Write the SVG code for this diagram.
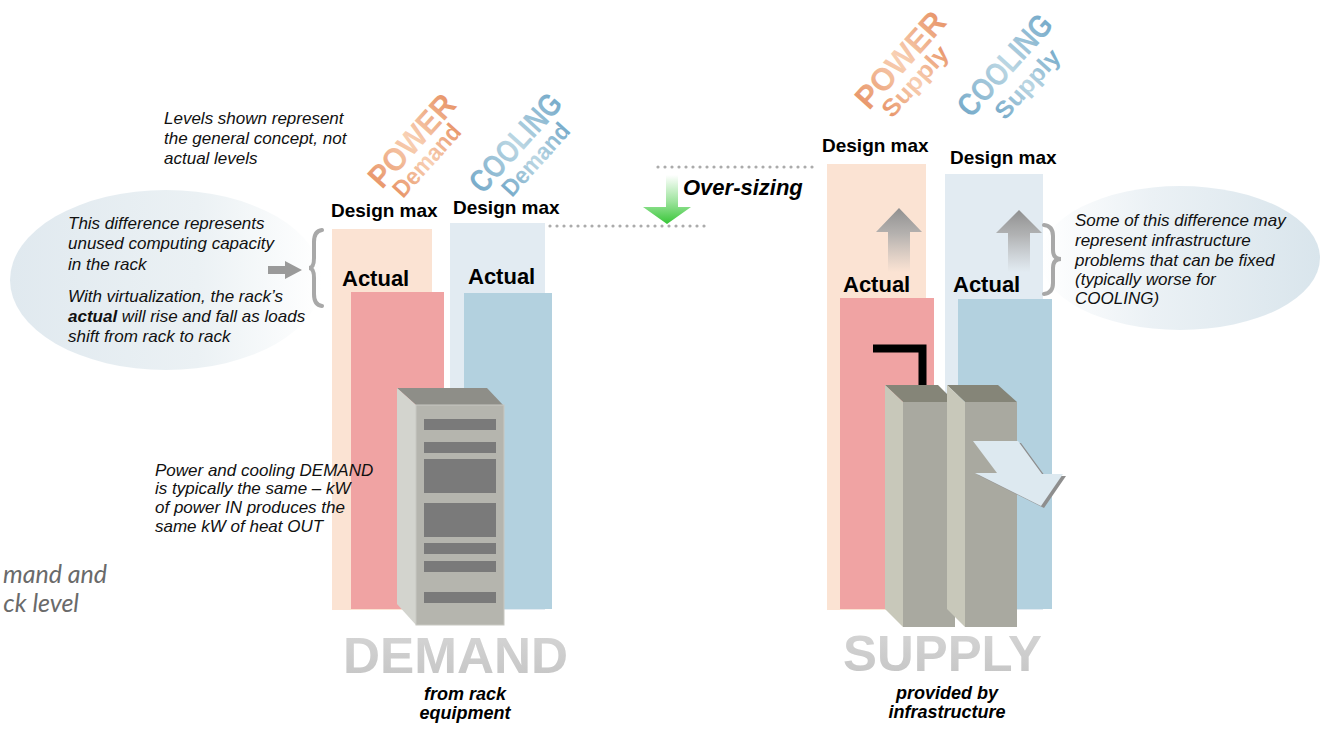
<svg xmlns="http://www.w3.org/2000/svg" width="1322" height="730" viewBox="0 0 1322 730">
<defs>
<style>
.it{font-family:"Liberation Sans",Arial,sans-serif;font-style:italic;font-size:17px;fill:#111}
.dm{font-family:"Liberation Sans",Arial,sans-serif;font-weight:bold;font-size:19px;fill:#000}
.act{font-family:"Liberation Sans",Arial,sans-serif;font-weight:bold;font-size:22px;fill:#000}
.big{font-family:"Liberation Sans",Arial,sans-serif;font-weight:bold;font-size:50px;fill:url(#gBig)}
.sub{font-family:"Liberation Sans",Arial,sans-serif;font-weight:bold;font-style:italic;font-size:18px;fill:#000;text-anchor:middle}
.rotB{font-family:"Liberation Sans",Arial,sans-serif;font-weight:bold;font-size:32px}
.rotS{font-family:"Liberation Sans",Arial,sans-serif;font-weight:bold;font-size:24px}
.peach{fill:#FBE3D3}.lblue{fill:#E2EBF2}.red{fill:#F0A3A3}.blue{fill:#B3D1DF}
.dots{stroke:#ABABAB;stroke-width:3.2;stroke-linecap:round;stroke-dasharray:0 7;fill:none}
.brace{stroke:#A8A8A8;stroke-width:4;fill:none;stroke-linecap:round}
.slot{fill:#7A7A7A}
</style>
<linearGradient id="gOr" x1="0" y1="0" x2="1" y2="0">
<stop offset="0" stop-color="#E8966A"/><stop offset="0.5" stop-color="#F8D0B4"/><stop offset="1" stop-color="#E8966A"/>
</linearGradient>
<linearGradient id="gBl" x1="0" y1="0" x2="1" y2="0">
<stop offset="0" stop-color="#77ABCA"/><stop offset="0.5" stop-color="#BCD7E3"/><stop offset="1" stop-color="#77ABCA"/>
</linearGradient>
<linearGradient id="gBig" x1="0" y1="0" x2="0" y2="1">
<stop offset="0" stop-color="#D6D6D6"/><stop offset="1" stop-color="#C4C4C4"/>
</linearGradient>
<linearGradient id="gEllL" x1="0" y1="0" x2="1" y2="0">
<stop offset="0" stop-color="#E0E9EF"/><stop offset="0.6" stop-color="#EBF1F4"/><stop offset="1" stop-color="#FFFFFF"/>
</linearGradient>
<linearGradient id="gEllR" x1="0" y1="0" x2="1" y2="0">
<stop offset="0" stop-color="#FFFFFF"/><stop offset="0.4" stop-color="#EBF1F5"/><stop offset="1" stop-color="#D9E5EC"/>
</linearGradient>
<linearGradient id="gUp" x1="0" y1="0" x2="0" y2="1">
<stop offset="0" stop-color="#8F8F8F"/><stop offset="0.4" stop-color="#A8A8A8" stop-opacity="0.85"/><stop offset="1" stop-color="#B0B0B0" stop-opacity="0"/>
</linearGradient>
<linearGradient id="gGreen" x1="0" y1="0" x2="0" y2="1">
<stop offset="0" stop-color="#FFFFFF"/><stop offset="0.55" stop-color="#9BE39B"/><stop offset="1" stop-color="#38C638"/>
</linearGradient>
</defs>

<rect width="1322" height="730" fill="#FFFFFF"/>

<!-- callout ellipses -->
<g id="callout-left">
<ellipse cx="166" cy="280" rx="156" ry="90" fill="url(#gEllL)"/>
<text class="it" x="68" y="229">This difference represents</text>
<text class="it" x="68" y="249">unused computing capacity</text>
<text class="it" x="68" y="270"> in the rack</text>
<text class="it" x="68" y="302">With virtualization, the rack’s</text>
<text class="it" x="68" y="322"><tspan font-weight="bold">actual</tspan> will rise and fall as loads</text>
<text class="it" x="68" y="342">shift from rack to rack</text>
</g>
<g id="callout-right">
<ellipse cx="1180" cy="258" rx="140" ry="72" fill="url(#gEllR)"/>
<text class="it" x="1075" y="226">Some of this difference may</text>
<text class="it" x="1075" y="246">represent infrastructure</text>
<text class="it" x="1075" y="266">problems that can be fixed</text>
<text class="it" x="1075" y="285">(typically worse for</text>
<text class="it" x="1075" y="304">COOLING)</text>
</g>

<g id="note-levels">
<text class="it" x="164" y="124">Levels shown represent</text>
<text class="it" x="164" y="144">the general concept, not</text>
<text class="it" x="164" y="164">actual levels</text>
</g>

<!-- DEMAND bars -->
<g id="demand-power">
<rect class="peach" x="332" y="229" width="100" height="381"/>
<rect class="red" x="351" y="292" width="93" height="317"/>
<text class="dm" x="331" y="217">Design max</text>
<text class="act" x="342" y="286">Actual</text>
<g transform="translate(382,190) rotate(-48)"><text class="rotB" x="0" y="0" fill="url(#gOr)" textLength="113" lengthAdjust="spacingAndGlyphs">POWER</text></g>
<g transform="translate(403,199) rotate(-48)"><text class="rotS" x="0" y="0" fill="url(#gOr)" textLength="89" lengthAdjust="spacingAndGlyphs">Demand</text></g>
</g>
<g id="demand-cooling">
<rect class="lblue" x="450" y="223" width="95" height="387"/>
<rect class="blue" x="464" y="293" width="88" height="316"/>
<text class="dm" x="453" y="214">Design max</text>
<text class="act" x="468" y="284">Actual</text>
<g transform="translate(483,195) rotate(-48)"><text class="rotB" x="0" y="0" fill="url(#gBl)" textLength="121" lengthAdjust="spacingAndGlyphs">COOLING</text></g>
<g transform="translate(512,198) rotate(-48)"><text class="rotS" x="0" y="0" fill="url(#gBl)" textLength="89" lengthAdjust="spacingAndGlyphs">Demand</text></g>
</g>

<g id="rack">
<polygon points="397,388 487,388 503,405 416,405" fill="#8E8E88"/>
<polygon points="397,388 416,405 416,625 397,604" fill="#D3D4CE"/>
<rect x="416" y="405" width="88" height="220" fill="#B5B5AE" stroke="#C8C8C2" stroke-width="1"/>
<rect class="slot" x="424" y="419" width="72" height="11"/>
<rect class="slot" x="424" y="442" width="72" height="11"/>
<rect class="slot" x="424" y="459" width="72" height="34"/>
<rect class="slot" x="424" y="503" width="72" height="34"/>
<rect class="slot" x="424" y="543" width="72" height="11"/>
<rect class="slot" x="424" y="561" width="72" height="11"/>
<rect class="slot" x="424" y="592" width="72" height="11"/>
</g>

<g id="note-demand">
<text class="it" x="155" y="476" font-size="16">Power and cooling DEMAND</text>
<text class="it" x="155" y="494" font-size="16">is typically the same – kW</text>
<text class="it" x="155" y="513" font-size="16">of power IN produces the</text>
<text class="it" x="155" y="532" font-size="16">same kW of heat OUT</text>
</g>

<g id="cut-text">
<text x="107" y="583" text-anchor="end" font-family="Lato,'Open Sans',sans-serif" font-style="italic" font-size="25" fill="#6A6A6A">mand and</text>
<text x="79" y="612" text-anchor="end" font-family="Lato,'Open Sans',sans-serif" font-style="italic" font-size="25" fill="#6A6A6A">ck level</text>
</g>

<g id="demand-title">
<text class="big" x="343" y="673" textLength="225" lengthAdjust="spacingAndGlyphs">DEMAND</text>
<text class="sub" x="465" y="700">from rack</text>
<text class="sub" x="465" y="719">equipment</text>
</g>

<!-- SUPPLY bars -->
<g id="supply-power">
<rect class="peach" x="827" y="164" width="99" height="446"/>
<path d="M899 208 L922 232 L910 232 L910 272 L888 272 L888 232 L876 232 Z" fill="url(#gUp)"/>
<rect class="red" x="840" y="298" width="94" height="311"/>
<text class="dm" x="822" y="152">Design max</text>
<text class="act" x="843" y="292">Actual</text>
<g transform="translate(869,111) rotate(-48)"><text class="rotB" x="0" y="0" fill="url(#gOr)" textLength="118" lengthAdjust="spacingAndGlyphs">POWER</text></g>
<g transform="translate(892,119) rotate(-48)"><text class="rotS" x="0" y="0" fill="url(#gOr)" textLength="87" lengthAdjust="spacingAndGlyphs">Supply</text></g>
</g>
<g id="supply-cooling">
<rect class="lblue" x="945" y="174" width="98" height="436"/>
<path d="M1019 210 L1042 233 L1030 233 L1030 272 L1008 272 L1008 233 L996 233 Z" fill="url(#gUp)"/>
<rect class="blue" x="958" y="299" width="94" height="310"/>
<text class="dm" x="950" y="164">Design max</text>
<text class="act" x="953" y="292">Actual</text>
<g transform="translate(971,119) rotate(-48)"><text class="rotB" x="0" y="0" fill="url(#gBl)" textLength="125" lengthAdjust="spacingAndGlyphs">COOLING</text></g>
<g transform="translate(1005,121) rotate(-48)"><text class="rotS" x="0" y="0" fill="url(#gBl)" textLength="85" lengthAdjust="spacingAndGlyphs">Supply</text></g>
</g>

<g id="infrastructure">
<path d="M873 348.5 H922.5 V391" stroke="#000" stroke-width="8" fill="none"/>
<polygon points="885,385 938,385 955,402 903,402" fill="#858578"/>
<polygon points="885,385 903,402 903,627 885,609" fill="#C8C8BA"/>
<rect x="903" y="402" width="52" height="225" fill="#A9A9A0"/>
<polygon points="947,385 998,385 1017,402 965,402" fill="#858578"/>
<polygon points="947,385 965,402 965,627 947,609" fill="#C8C8BA"/>
<rect x="965" y="402" width="52" height="225" fill="#A9A9A0"/>
<polygon points="976,443 1021,443 1045,476 1066,476 1044,508 978,475 1000,475" fill="#8E8E8E"/>
<polygon points="973,441 1018,441 1042,474 1063,474 1041,506 975,473 997,473" fill="#DDE9F0"/>
</g>

<g id="supply-title">
<text class="big" x="843" y="671" textLength="199" lengthAdjust="spacingAndGlyphs">SUPPLY</text>
<text class="sub" x="947" y="699">provided by</text>
<text class="sub" x="947" y="718">infrastructure</text>
</g>

<!-- connectors -->
<g id="connectors">
<line class="dots" x1="550" y1="226" x2="707" y2="226"/>
<line class="dots" x1="658" y1="167" x2="815" y2="167"/>
<path d="M666 175 H678 V207 H691 L667 224 L643 207 H666 Z" fill="url(#gGreen)"/>
<text x="683" y="195" font-family="'Liberation Sans',Arial,sans-serif" font-weight="bold" font-style="italic" font-size="22" fill="#000">Over-sizing</text>
<path class="brace" d="M322 230 Q314 231 314 242 L314 258 Q314 268 309 268 Q314 268 314 278 L314 294 Q314 305 322 306"/>
<path d="M268 266 H285 V261 L302 270 L285 279 V274 H268 Z" fill="#9A9A9A"/>
<path class="brace" d="M1044 225 Q1053 226 1053 236 L1053 250 Q1053 259 1061 259 Q1053 259 1053 268 L1053 283 Q1053 293 1044 294"/>
</g>
</svg>
